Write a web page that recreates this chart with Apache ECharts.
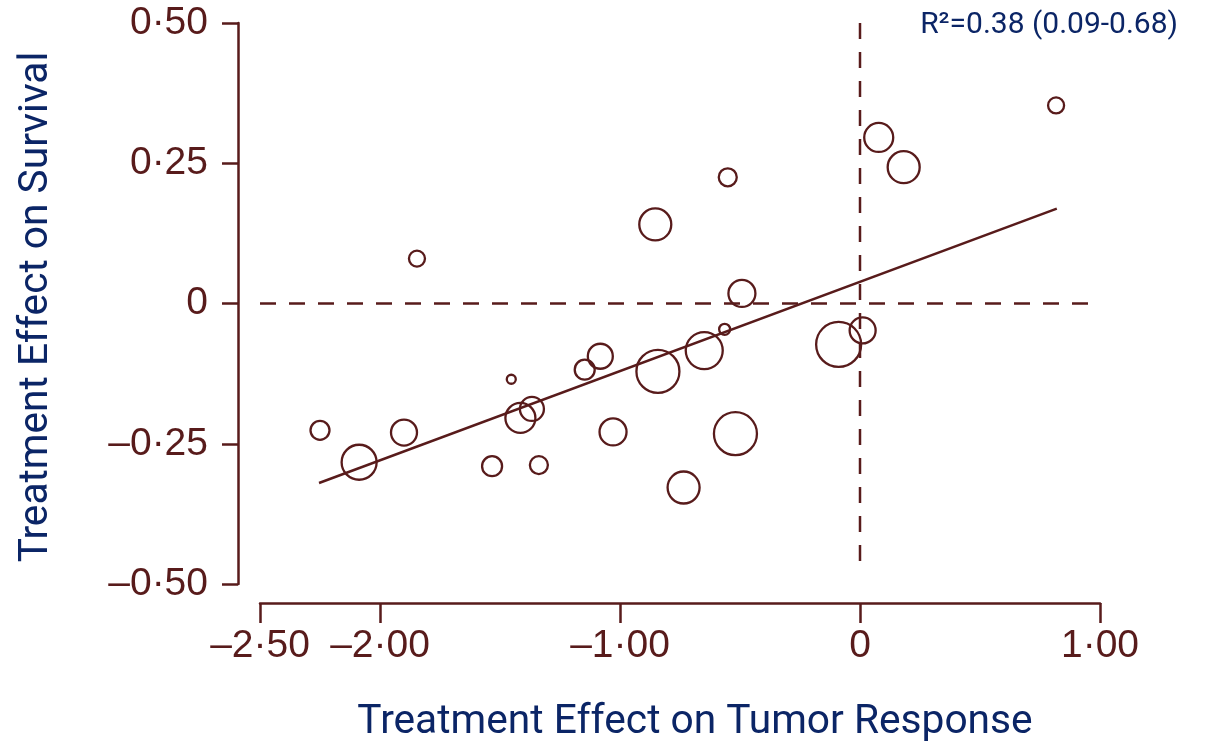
<!DOCTYPE html>
<html>
<head>
<meta charset="utf-8">
<script src="https://cdn.jsdelivr.net/npm/echarts@6/dist/echarts.min.js"></script>
<style>
html,body{margin:0;padding:0;background:#fff;}
#chart{width:1205px;height:748px;}
</style>
</head>
<body>
<div id="chart"></div>
<script>
// ---- data ----
const tumorEffect = [-2.25, -2.087, -1.90, -1.846, -1.533, -1.338, -1.453, -1.415, -1.367, -1.147, -1.082, -1.029, -0.853, -0.842, -0.735, -0.649, -0.564, -0.519, -0.492, -0.551, -0.089, 0.011, 0.078, 0.182, 0.817];
const survivalEffect = [-0.226, -0.283, -0.230, 0.080, -0.290, -0.288, -0.135, -0.204, -0.188, -0.118, -0.094, -0.229, 0.141, -0.121, -0.328, -0.084, -0.046, -0.232, 0.018, 0.225, -0.073, -0.048, 0.296, 0.243, 0.353];
const studyWeight = [9.5, 17.5, 13, 8, 10, 9, 4.5, 15, 12, 10, 12.5, 13.5, 16, 21.5, 16, 18.5, 5.5, 21.5, 13.5, 9, 22.5, 13, 14.5, 16, 8];
const fitX = [-2.254, 0.82];
const fitY = [-0.320, 0.169];
const xTickValues = [-2.5, -2, -1, 0, 1];
const xTickLabels = ['\u20132\u00b750', '\u20132\u00b700', '\u20131\u00b700', '0', '1\u00b700'];
const yTickValues = [-0.5, -0.25, 0, 0.25, 0.5];
const yTickLabels = ['\u20130\u00b750', '\u20130\u00b725', '0', '0\u00b725', '0\u00b750'];
const xTitle = 'Treatment Effect on Tumor Response';
const yTitle = 'Treatment Effect on Survival';
const r2Text = 'R\u00b2=0.38 (0.09-0.68)';

// ---- styles ----
const maroon = '#581b1b';
const navy = '#0b2566';

const scatterData = tumorEffect.map((x, i) => ({
  value: [x, survivalEffect[i]],
  symbolSize: studyWeight[i] * 2
}));
const fitData = fitX.map((x, i) => [x, fitY[i]]);

function lookup(values, labels, v) {
  for (let i = 0; i < values.length; i++) {
    if (Math.abs(values[i] - v) < 1e-9) return labels[i];
  }
  return '';
}

const chart = echarts.init(document.getElementById('chart'));
chart.setOption({
  animation: false,
  backgroundColor: '#fff',
  grid: { left: 260, right: 105, top: 23, bottom: 164, containLabel: false },
  xAxis: {
    type: 'value', min: -2.5, max: 1, interval: 0.5, offset: 19,
    axisLine: { show: true, onZero: false, lineStyle: { color: maroon, width: 2.5 } },
    axisTick: { show: true, length: 20, customValues: xTickValues, lineStyle: { color: maroon, width: 2.5 } },
    axisLabel: {
      customValues: xTickValues, margin: 24,
      fontFamily: 'Liberation Sans, Arial, sans-serif', fontSize: 39, color: maroon,
      formatter: v => lookup(xTickValues, xTickLabels, v)
    },
    splitLine: { show: false }
  },
  yAxis: {
    type: 'value', min: -0.5, max: 0.5, interval: 0.25, offset: 22,
    axisLine: { show: true, onZero: false, lineStyle: { color: maroon, width: 2.5 } },
    axisTick: { show: true, length: 16, lineStyle: { color: maroon, width: 2.5 } },
    axisLabel: {
      margin: 30,
      fontFamily: 'Liberation Sans, Arial, sans-serif', fontSize: 39, color: maroon,
      formatter: v => lookup(yTickValues, yTickLabels, v)
    },
    splitLine: { show: false }
  },
  series: [
    {
      type: 'line', data: [[-2.5, 0], [1, 0]], symbol: 'none', silent: true, z: 1,
      lineStyle: { color: maroon, width: 2.5, type: [16, 13] }
    },
    {
      type: 'line', data: [[0, 0.5], [0, -0.47]], symbol: 'none', silent: true, z: 1,
      lineStyle: { color: maroon, width: 2.5, type: [16, 13] }
    },
    {
      type: 'line', data: fitData, symbol: 'none', silent: true, z: 2,
      lineStyle: { color: maroon, width: 2.5 }
    },
    {
      type: 'scatter', data: scatterData, symbol: 'circle', z: 3,
      itemStyle: { color: 'rgba(0,0,0,0)', borderColor: maroon, borderWidth: 2.3, opacity: 1 }
    }
  ],
  graphic: [
    {
      type: 'text', x: 37, y: 307, rotation: Math.PI / 2,
      style: { text: yTitle, fill: navy, font: '40.7px Roboto, sans-serif', textAlign: 'center', textVerticalAlign: 'middle' }
    },
    {
      type: 'text', x: 695, y: 723,
      style: { text: xTitle, fill: navy, font: '40.7px Roboto, sans-serif', textAlign: 'center', textVerticalAlign: 'middle' }
    },
    {
      type: 'text', x: 1178, y: 25,
      style: { text: r2Text, fill: navy, font: '30px Roboto, sans-serif', textAlign: 'right', textVerticalAlign: 'middle' }
    }
  ]
});
</script>
</body>
</html>
